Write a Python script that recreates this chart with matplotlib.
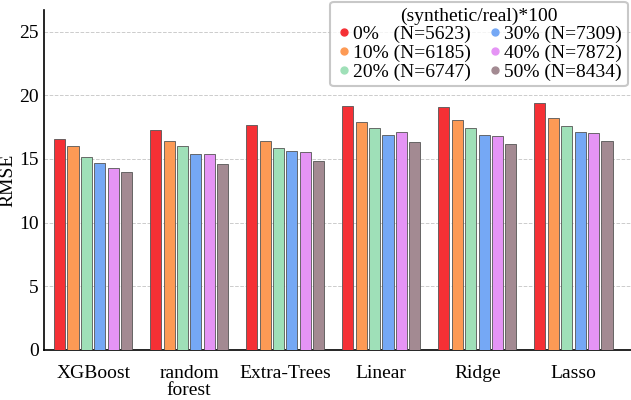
import numpy as np
import matplotlib
matplotlib.use("Agg")
import matplotlib.pyplot as plt

plt.rcParams["font.family"] = ["Liberation Serif", "DejaVu Serif"]

models = ["XGBoost", "random\nforest", "Extra-Trees", "Linear", "Ridge", "Lasso"]
ratios = ["0%", "10%", "20%", "30%", "40%", "50%"]
sizes = [5623, 6185, 6747, 7309, 7872, 8434]

rmse_0 = [16.6, 17.3, 17.7, 19.15, 19.1, 19.4]
rmse_10 = [16.0, 16.4, 16.4, 17.9, 18.05, 18.25]
rmse_20 = [15.15, 16.0, 15.9, 17.45, 17.4, 17.6]
rmse_30 = [14.65, 15.4, 15.65, 16.85, 16.85, 17.15]
rmse_40 = [14.3, 15.4, 15.55, 17.1, 16.8, 17.05]
rmse_50 = [13.95, 14.6, 14.85, 16.3, 16.2, 16.4]
series = [rmse_0, rmse_10, rmse_20, rmse_30, rmse_40, rmse_50]

colors = ["#f53035", "#fd9a55", "#9fe0b8", "#75a8f5", "#e594f5", "#a38a92"]

fig = plt.figure(figsize=(6.31, 4), dpi=100)
ax = fig.add_axes([0.07, 0.125, 0.93, 0.85])

x = np.arange(len(models))
step = 0.14
width = 0.115

for i, vals in enumerate(series):
    ax.bar(x + (i - 2.5) * step, vals, width=width, color=colors[i],
           edgecolor="#555555", linewidth=0.6, zorder=3)

# legend handles with circle markers
for i in range(len(ratios)):
    gap = "   " if ratios[i] == "0%" else " "
    ax.plot([], [], "o", color=colors[i], markersize=5,
            label=f"{ratios[i]}{gap}(N={sizes[i]})")

ax.set_xlim(-0.51, 5.6)
ax.set_ylim(0, 26.7)
ax.set_yticks([0, 5, 10, 15, 20, 25])
ax.set_xticks(x)
ax.set_xticklabels(models, fontsize=14, linespacing=1.0)
ax.tick_params(axis="y", labelsize=14, length=0, pad=4)
ax.tick_params(axis="x", length=0, pad=11)
ax.set_ylabel("RMSE", fontsize=14, labelpad=2)

ax.grid(axis="y", linestyle="--", color="#cccccc", linewidth=0.7, zorder=0)
ax.spines["top"].set_visible(False)
ax.spines["right"].set_visible(False)
ax.spines["left"].set_linewidth(1.2)
ax.spines["bottom"].set_linewidth(1.2)

leg = ax.legend(title="(synthetic/real)*100", ncol=2, fontsize=14,
                title_fontsize=14, loc="upper right",
                bbox_to_anchor=(0.995, 1.025), borderaxespad=0,
                handletextpad=0.1, handlelength=0.8, columnspacing=0.8,
                labelspacing=0.05, borderpad=0.3, frameon=True, fancybox=True)
leg.get_frame().set_edgecolor("#bbbbbb")
leg.get_frame().set_linewidth(1.5)

fig.savefig("out.png", dpi=100)
